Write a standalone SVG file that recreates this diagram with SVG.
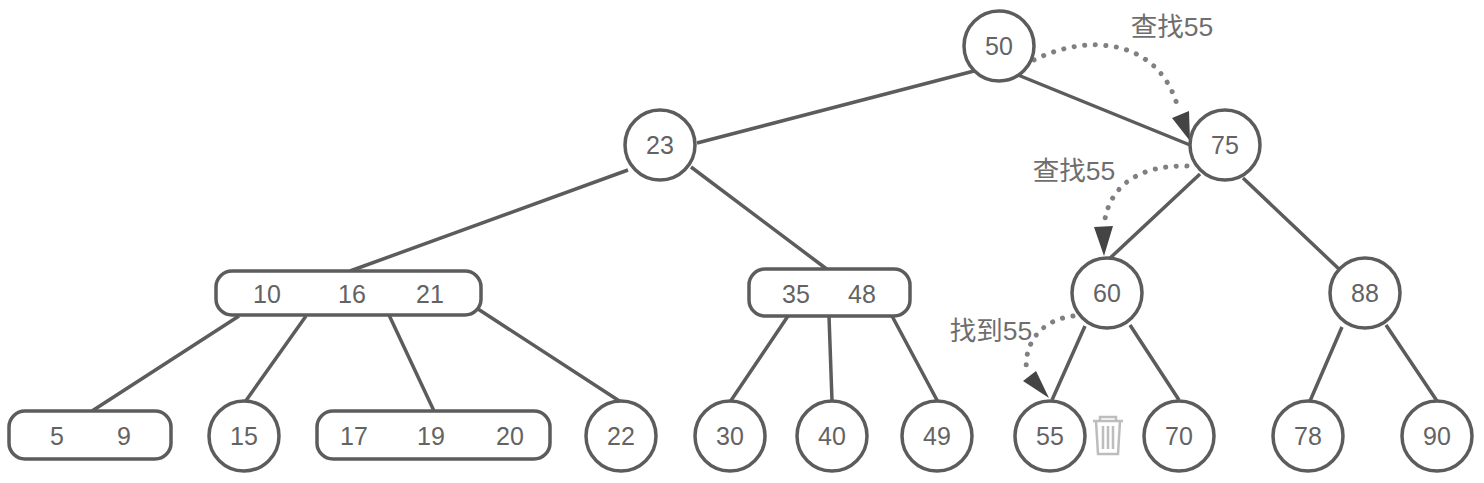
<svg xmlns="http://www.w3.org/2000/svg" width="1484" height="483" viewBox="0 0 1484 483">
<style>
.n{fill:#fff;stroke:#5c5c5c;stroke-width:3.5}
.t{font-family:"Liberation Sans",Arial,sans-serif;font-size:25px;fill:#636363;text-anchor:middle}
.l{font-family:"Liberation Sans","Noto Sans CJK SC",sans-serif;font-size:26.5px;fill:#6e6e6e;text-anchor:middle}
.e{fill:none;stroke:#5c5c5c;stroke-width:3.5}
.d{fill:none;stroke:#808080;stroke-width:5;stroke-linecap:round;stroke-dasharray:0.1 10.5}
.a{fill:#444}
</style>
<rect width="1484" height="483" fill="#fff"/>
<g id="connectors">
<path class="e" d="M974 71L697 143M1018 75L1190 145M628 170L350 271M691 167L828 270M1200 174L1108 260M1243 178L1340 270M239 316L92 411M306 316L245 402M389 315L434 411M478 309L624 404M788 316L730 402M829 316L832 401M892 316L938 402M1085 326L1052 400M1130 325L1179 400M1342 327L1310 401M1386 325L1437 401"/>
<path class="d" d="M1034 60C1090 32 1160 40 1178 108"/>
<path class="d" d="M1187 166C1140 165 1108 185 1104 226"/>
<path class="d" d="M1073 316C1040 320 1022 345 1027 375"/>
<polygon class="a" points="1172,118 1189,111 1190,141"/>
<polygon class="a" points="1094,227 1113,226 1104,256"/>
<polygon class="a" points="1023,381 1036,371 1049,398"/>
</g>
<g id="n50"><circle class="n" cx="999" cy="46" r="35"/><text class="t" x="999" y="55">50</text></g>
<g id="n23"><circle class="n" cx="660" cy="145" r="35"/><text class="t" x="660" y="154">23</text></g>
<g id="n75"><circle class="n" cx="1225" cy="145" r="35"/><text class="t" x="1225" y="154">75</text></g>
<g id="n101621"><rect class="n" x="216" y="271" width="265" height="44" rx="16"/><text class="t" x="267" y="303">10</text><text class="t" x="352" y="303">16</text><text class="t" x="430" y="303">21</text></g>
<g id="n3548"><rect class="n" x="749" y="269" width="161" height="47" rx="16"/><text class="t" x="796" y="303">35</text><text class="t" x="862" y="303">48</text></g>
<g id="n60"><circle class="n" cx="1107" cy="293" r="35"/><text class="t" x="1107" y="302">60</text></g>
<g id="n88"><circle class="n" cx="1365" cy="293" r="35"/><text class="t" x="1365" y="302">88</text></g>
<g id="n59"><rect class="n" x="9" y="411" width="162" height="48" rx="16"/><text class="t" x="57" y="445">5</text><text class="t" x="124" y="445">9</text></g>
<g id="n15"><circle class="n" cx="244" cy="436" r="35"/><text class="t" x="244" y="445">15</text></g>
<g id="n171920"><rect class="n" x="317" y="411" width="233" height="48" rx="16"/><text class="t" x="354" y="445">17</text><text class="t" x="431" y="445">19</text><text class="t" x="510" y="445">20</text></g>
<g id="n22"><circle class="n" cx="621" cy="436" r="35"/><text class="t" x="621" y="445">22</text></g>
<g id="n30"><circle class="n" cx="730" cy="436" r="35"/><text class="t" x="730" y="445">30</text></g>
<g id="n40"><circle class="n" cx="832" cy="436" r="35"/><text class="t" x="832" y="445">40</text></g>
<g id="n49"><circle class="n" cx="937" cy="436" r="35"/><text class="t" x="937" y="445">49</text></g>
<g id="n55"><circle class="n" cx="1050" cy="436" r="35"/><text class="t" x="1050" y="445">55</text></g>
<g id="n70"><circle class="n" cx="1179" cy="436" r="35"/><text class="t" x="1179" y="445">70</text></g>
<g id="n78"><circle class="n" cx="1308" cy="436" r="35"/><text class="t" x="1308" y="445">78</text></g>
<g id="n90"><circle class="n" cx="1437" cy="436" r="35"/><text class="t" x="1437" y="445">90</text></g>
<g id="trash" fill="none" stroke="#bdbdbd" stroke-width="2.5"><path d="M1093 421H1123M1100 421V417H1116V421M1096 421L1098 454H1118L1120 421M1103 426V449M1108 426V449M1113 426V449"/></g>
<g id="labels"><text class="l" x="1172" y="36">查找55</text><text class="l" x="1074" y="180">查找55</text><text class="l" x="991" y="340">找到55</text></g>
</svg>
